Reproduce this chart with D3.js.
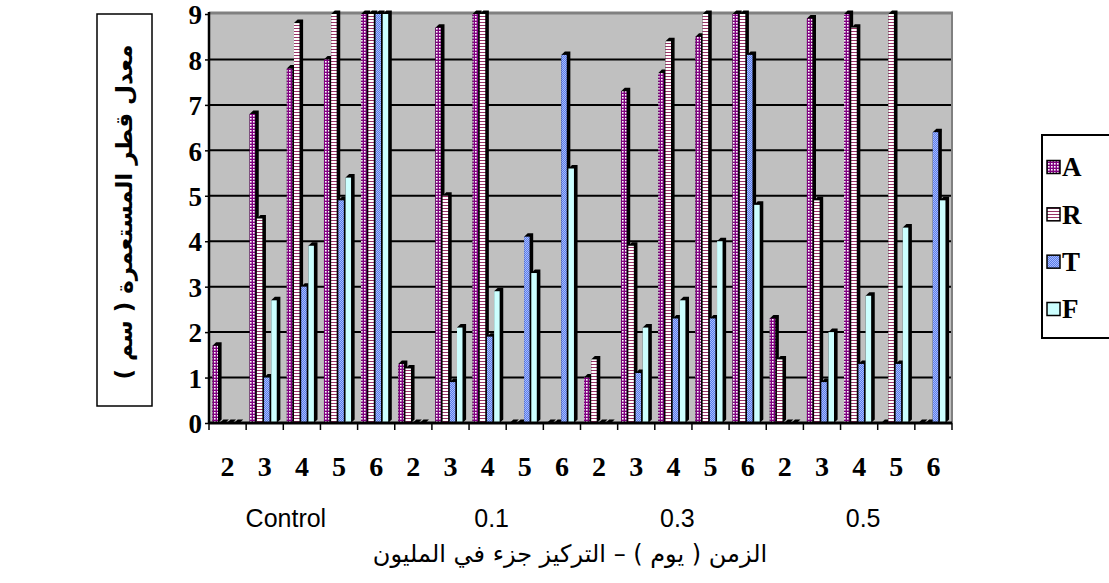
<!DOCTYPE html>
<html>
<head>
<meta charset="utf-8">
<script src="https://cdn.jsdelivr.net/npm/d3@7"></script>
<style>
  html, body { margin: 0; padding: 0; background: #fff; }
  svg { display: block; }
</style>
</head>
<body>
<svg id="chart" width="1109" height="583"></svg>
<script>
// ---- data ----
const days = ["2","3","4","5","6"];
const groups = ["Control","0.1","0.3","0.5"];
const categories = groups.flatMap(g => days.map(d => g + "|" + d));
const seriesNames = ["A","R","T","F"];
const valuesA = [1.7,6.8,7.8,8.0,9.0, 1.3,8.7,9.0,0,0, 1.0,7.3,7.7,8.5,9.0, 2.3,8.9,9.0,0,0];
const valuesR = [0,4.5,8.8,9.0,9.0, 1.2,5.0,9.0,0,0, 1.4,3.9,8.4,9.0,9.0, 1.4,4.9,8.7,9.0,0];
const valuesT = [0,1.0,3.0,4.9,9.0, 0,0.9,1.9,4.1,8.1, 0,1.1,2.3,2.3,8.1, 0,0.9,1.3,1.3,6.4];
const valuesF = [0,2.7,3.9,5.4,9.0, 0,2.1,2.9,3.3,5.6, 0,2.1,2.7,4.0,4.8, 0,2.0,2.8,4.3,4.9];
const yTicks = [0,1,2,3,4,5,6,7,8,9];
const yLabelText = "معدل قطر المستعمرة ( سم )";
const xTitleText = "الزمن ( يوم ) – التركيز جزء في المليون";

const series = [valuesA, valuesR, valuesT, valuesF];

// ---- layout ----
const L = 209, R = 952, T = 14, B = 423;
const svg = d3.select("#chart");
const defs = svg.append("defs");

// patterns
const pA = defs.append("pattern").attr("id","pA").attr("patternUnits","userSpaceOnUse").attr("width",3).attr("height",3);
pA.append("rect").attr("width",3).attr("height",3).attr("fill","#800080");
pA.append("rect").attr("x",1).attr("y",1).attr("width",1.6).attr("height",1.6).attr("fill","#ffffff");

const pR = defs.append("pattern").attr("id","pR").attr("patternUnits","userSpaceOnUse").attr("width",4).attr("height",3);
pR.append("rect").attr("width",4).attr("height",3).attr("fill","#ffffff");
pR.append("rect").attr("y",1).attr("width",4).attr("height",1).attr("fill","#993366");

const pT = defs.append("pattern").attr("id","pT").attr("patternUnits","userSpaceOnUse").attr("width",2).attr("height",2);
pT.append("rect").attr("width",2).attr("height",2).attr("fill","#5a7ce8");
pT.append("rect").attr("width",1).attr("height",1).attr("fill","#a8bcff");
pT.append("rect").attr("x",1).attr("y",1).attr("width",1).attr("height",1).attr("fill","#a8bcff");

const fills = ["url(#pA)","url(#pR)","url(#pT)","#ccffff"];

const x = d3.scaleBand().domain(categories).range([L, R]).padding(0);
const y = d3.scaleLinear().domain([0, 9]).range([B, T]);
const inner = d3.scaleBand().domain(seriesNames).range([0, 28.8]).padding(0);

// plot background
svg.append("rect").attr("x",L).attr("y",T).attr("width",R-L).attr("height",B-T).attr("fill","#c0c0c0");

// gridlines
svg.append("g").selectAll("line").data(yTicks.filter(v => v > 0 && v < 9)).join("line")
  .attr("x1",L).attr("x2",R).attr("y1",d=>y(d)).attr("y2",d=>y(d))
  .attr("stroke","#000").attr("stroke-width",2);

// top/right wall edges
svg.append("line").attr("x1",L).attr("x2",R+1).attr("y1",T-1).attr("y2",T-1).attr("stroke","#808080").attr("stroke-width",3);
svg.append("line").attr("x1",R).attr("x2",R).attr("y1",T-1).attr("y2",B).attr("stroke","#808080").attr("stroke-width",2);

// bars
const fw = 5.5, dx = 3.6, dy = 3.5;
const barsG = svg.append("g");
categories.forEach((c, i) => {
  series.forEach((vals, s) => {
    const x0 = x(c) + 3.5 + inner(seriesNames[s]);
    const yt = y(vals[i]);
    const base = y(0);
    barsG.append("path")
      .attr("d", `M${x0},${yt} L${x0+dx},${yt-dy} L${x0+fw+dx},${yt-dy} L${x0+fw+dx},${base-dy} L${x0+fw},${base} L${x0},${base} Z`)
      .attr("fill","#000");
    if (base - yt > 0) {
      barsG.append("rect").attr("x",x0).attr("y",yt).attr("width",fw).attr("height",base-yt)
        .attr("fill",fills[s]);
    }
  });
});

// y axis
const yAxis = svg.append("g").attr("transform",`translate(${L},0)`)
  .call(d3.axisLeft(y).tickValues(yTicks).tickFormat(d3.format("d")).tickSize(4).tickPadding(3));
yAxis.select(".domain").attr("stroke","#000").attr("stroke-width",2.5).attr("d",`M0,${T-2}V${B}`);
yAxis.selectAll(".tick line").attr("stroke","#000").attr("stroke-width",1.5);
yAxis.selectAll(".tick text").attr("font-family","'Liberation Serif','Times New Roman',serif")
  .attr("font-weight","bold").attr("font-size",27).attr("fill","#000").attr("dy","0.36em");

// x axis
const xAxis = svg.append("g").attr("transform",`translate(0,${B})`)
  .call(d3.axisBottom(x).tickFormat(d => d.split("|")[1]).tickSize(0).tickPadding(33));
xAxis.select(".domain").attr("stroke","#000").attr("stroke-width",3).attr("d",`M${L},0H${R}`);
xAxis.selectAll(".tick text").attr("font-family","'Liberation Serif','Times New Roman',serif")
  .attr("font-weight","bold").attr("font-size",28).attr("fill","#000");
// boundary ticks
const bounds = categories.map(c => x(c)).concat([R]);
xAxis.append("g").selectAll("line").data(bounds).join("line")
  .attr("x1",d=>d).attr("x2",d=>d).attr("y1",0).attr("y2",7).attr("stroke","#000").attr("stroke-width",1.5);

// group labels
const groupCenters = groups.map((g, gi) => (x(g+"|2") + x(g+"|6") + x.bandwidth())/2);
svg.append("g").selectAll("text").data(groups).join("text")
  .attr("x",(d,i)=>groupCenters[i] + (i===0 ? -16 : 4))
  .attr("y",527)
  .attr("text-anchor","middle")
  .attr("font-family","'Liberation Sans',Arial,sans-serif")
  .attr("font-size",25).attr("fill","#000")
  .text(d=>d);

// x title (Arabic)
svg.append("text").attr("x",570).attr("y",562).attr("text-anchor","middle")
  .attr("direction","rtl")
  .attr("font-family","'DejaVu Sans','Noto Sans',sans-serif").attr("font-size",24).attr("fill","#000")
  .text(xTitleText);

// y label box
svg.append("rect").attr("x",97).attr("y",14).attr("width",55).attr("height",392)
  .attr("fill","none").attr("stroke","#000").attr("stroke-width",1.5);
svg.append("text").attr("transform","translate(124,212) rotate(-90)")
  .attr("text-anchor","middle").attr("dominant-baseline","central").attr("direction","rtl")
  .attr("font-family","'DejaVu Sans','Noto Sans',sans-serif").attr("font-weight","bold").attr("font-size",23)
  .attr("fill","#000").text(yLabelText);

// legend
const lg = svg.append("g");
lg.append("rect").attr("x",1042).attr("y",135).attr("width",80).attr("height",203)
  .attr("fill","#fff").attr("stroke","#000").attr("stroke-width",2);
const legendY = d3.scalePoint().domain(seriesNames).range([167, 309]);
seriesNames.forEach((n, s) => {
  lg.append("rect").attr("x",1047).attr("y",legendY(n)-6.5).attr("width",13).attr("height",13)
    .attr("fill",fills[s]).attr("stroke","#000").attr("stroke-width",1.5);
  lg.append("text").attr("x",1062).attr("y",legendY(n)).attr("dy","0.35em")
    .attr("font-family","'Liberation Serif','Times New Roman',serif").attr("font-weight","bold")
    .attr("font-size",27).attr("fill","#000").text(n);
});
</script>
</body>
</html>
